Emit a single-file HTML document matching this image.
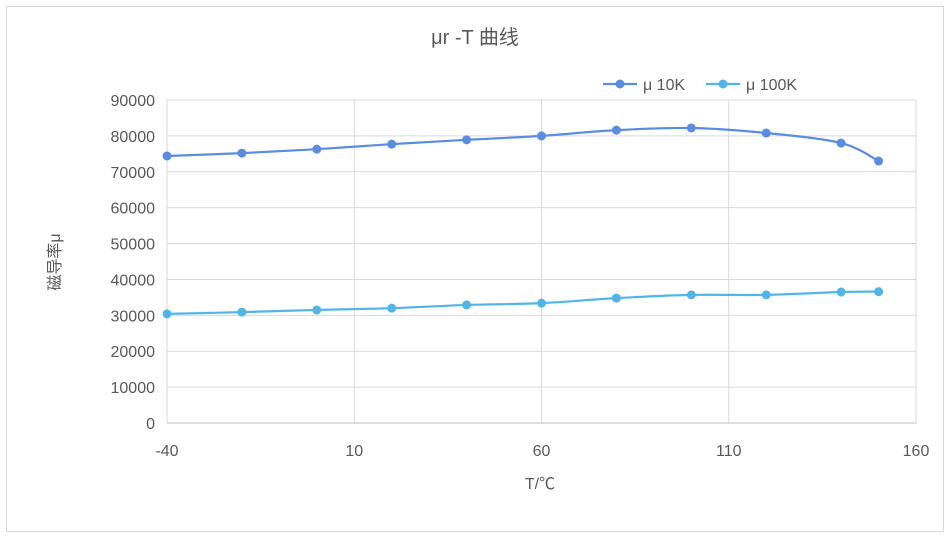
<!DOCTYPE html>
<html><head><meta charset="utf-8"><style>
body{margin:0;background:#fff;}
svg{display:block;font-family:"Liberation Sans","Noto Sans CJK SC",sans-serif;}
</style></head><body>
<svg id="chart" width="951" height="537">
<rect x="6.5" y="6.5" width="937" height="525" fill="#fff" stroke="#d9d9d9"/>
<text x="475" y="44" text-anchor="middle" font-size="20" fill="#595959">μr -T 曲线</text>
<g id="grid"></g><g id="axes"></g><g id="series"></g>
<text x="540" y="489" text-anchor="middle" font-size="16" fill="#595959">T/℃</text>
<text transform="translate(60,262) rotate(-90)" text-anchor="middle" font-size="16" fill="#595959">磁导率μ</text>
<g>
<g>
<line x1="603" y1="84" x2="637" y2="84" stroke="#5a8de0" stroke-width="2.2"/><circle cx="620" cy="84" r="4.5" fill="#5a8de0"/>
<text x="643" y="90" font-size="16" fill="#595959">μ 10K</text></g>
<g>
<line x1="706" y1="84" x2="740" y2="84" stroke="#52b5e8" stroke-width="2.2"/><circle cx="723" cy="84" r="4.5" fill="#52b5e8"/>
<text x="746" y="90" font-size="16" fill="#595959">μ 100K</text></g>
</g>
</svg>
<script>
const temps=[-40,-20,0,20,40,60,80,100,120,140,150];
const mu10k=[74400,75200,76300,77700,78900,80000,81600,82200,80800,78000,73000];
const mu100k=[30400,30900,31500,32000,32900,33400,34800,35700,35700,36500,36600];
const xTicks=[-40,10,60,110,160];
const yTicks=[0,10000,20000,30000,40000,50000,60000,70000,80000,90000];
const NS="http://www.w3.org/2000/svg";
const X0=167,X1=916,Y0=423,Y1=100;
function sx(v){return X0+(v+40)/200*(X1-X0);}
function sy(v){return Y0-v/90000*(Y0-Y1);}
function mk(tag,attrs,parent){const e=document.createElementNS(NS,tag);for(const k in attrs)e.setAttribute(k,attrs[k]);parent.appendChild(e);return e;}
const grid=document.getElementById('grid'),axes=document.getElementById('axes'),ser=document.getElementById('series');
yTicks.forEach(v=>{
 const l=mk('line',{x1:X0,x2:X1,y1:sy(v),y2:sy(v),stroke:'#d9d9d9'},grid);
 
 
 const t=mk('text',{x:X0-12,y:sy(v)+6,'text-anchor':'end','font-size':16,fill:'#595959'},axes);
 t.textContent=v;
 
 
});
xTicks.forEach(v=>{
 const l=mk('line',{x1:sx(v),x2:sx(v),y1:Y1,y2:Y0,stroke:'#d9d9d9'},grid);
 
 
 const t=mk('text',{x:sx(v),y:Y0+33,'text-anchor':'middle','font-size':16,fill:'#595959'},axes);
 t.textContent=v;
 
 
});
const ax=mk('line',{x1:X0,x2:X1,y1:Y0,y2:Y0,stroke:'#bfbfbf'},axes);


function path(pts){let d=`M${pts[0][0]},${pts[0][1]}`;
 for(let i=0;i<pts.length-1;i++){const p0=pts[Math.max(0,i-1)],p1=pts[i],p2=pts[i+1],p3=pts[Math.min(pts.length-1,i+2)];const t=0.16*3/3;
  const c1=[p1[0]+(p2[0]-p0[0])/6,p1[1]+(p2[1]-p0[1])/6],c2=[p2[0]-(p3[0]-p1[0])/6,p2[1]-(p3[1]-p1[1])/6];
  d+=` C${c1[0]},${c1[1]} ${c2[0]},${c2[1]} ${p2[0]},${p2[1]}`;}
 return d;}
function draw(vals,color,name){
 const g=mk('g',{},ser);
 
 
 const pts=temps.map((t,i)=>[sx(t),sy(vals[i])]);
 const p=mk('path',{d:path(pts),fill:'none',stroke:color,'stroke-width':2.2},g);
 
 
 pts.forEach(q=>{const c=mk('circle',{cx:q[0],cy:q[1],r:4.5,fill:color},g);
  
  });
}
draw(mu10k,'#5a8de0','series-10k');
draw(mu100k,'#52b5e8','series-100k');
</script>
</body></html>
